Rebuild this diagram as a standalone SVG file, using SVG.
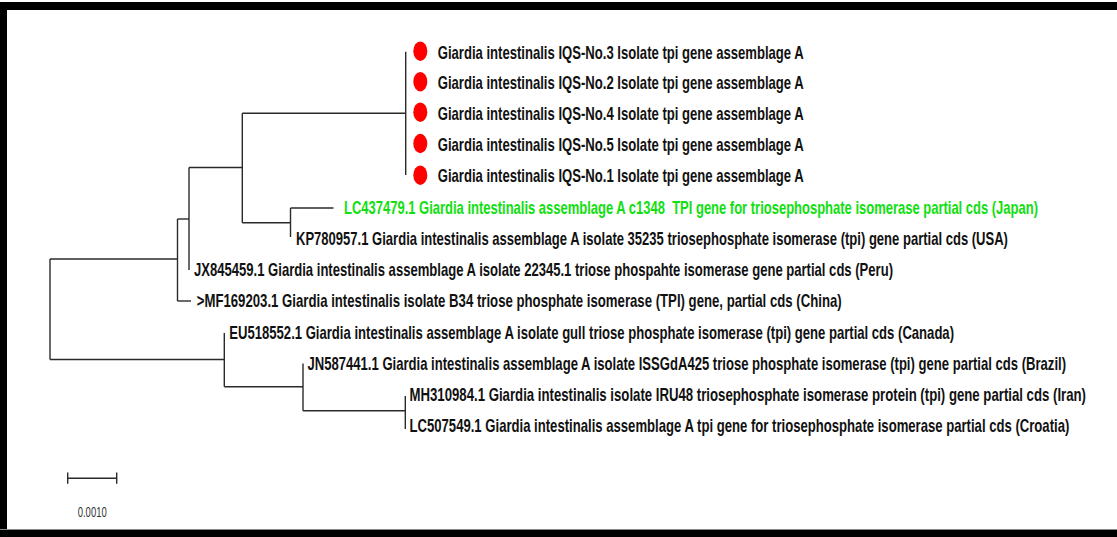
<svg xmlns="http://www.w3.org/2000/svg" width="1117" height="537" viewBox="0 0 1117 537">
<style>
.lbl{font-family:"Liberation Sans",Arial,sans-serif;font-size:17.5px;font-weight:bold;fill:#111}
.grn{fill:#10e010}
.br{fill:none;stroke:#2a2a2a;stroke-width:1.4}
.dot{fill:#ff0000}
.sc{font-family:"Liberation Sans",Arial,sans-serif;font-size:14px;fill:#333}
</style>
<rect x="0" y="0" width="1117" height="537" fill="#ffffff"/>
<g id="frame" fill="#000">
<rect x="0" y="2" width="1117" height="8"/>
<rect x="0" y="2" width="7" height="535"/>
<rect x="0" y="530" width="1117" height="7"/>
<rect x="0" y="529" width="1117" height="1" fill="#888"/>
</g>
<g id="connectors" class="br">
<path d="M50 259V359.5"/>
<path d="M50 259H177.5"/>
<path d="M177.5 219V301"/>
<path d="M177.5 219H189"/>
<path d="M177.5 301H191"/>
<path d="M189 167.5V270"/>
<path d="M189 167.5H242.3"/>
<path d="M242.3 113.3V222.7"/>
<path d="M242.3 113.3H405.7"/>
<path d="M405.7 51.7V175"/>
<path d="M242.3 222.7H290.5"/>
<path d="M290.5 208V237"/>
<path d="M290.5 208H333.5"/>
<path d="M50 359.5H224.3"/>
<path d="M224.3 333V386.7"/>
<path d="M224.3 386.7H303"/>
<path d="M303 363.5V410.7"/>
<path d="M303 410.7H405.3"/>
<path d="M405.3 396V429"/>
</g>
<g id="n-iqs3"><ellipse class="dot" cx="420.3" cy="51.2" rx="7" ry="9.7"/><text class="lbl" transform="translate(437.7 58.5) scale(0.7 1)" textLength="522.9" lengthAdjust="spacingAndGlyphs">Giardia intestinalis IQS-No.3 Isolate tpi gene assemblage A</text></g>
<g id="n-iqs2"><ellipse class="dot" cx="420.3" cy="81.7" rx="7" ry="9.7"/><text class="lbl" transform="translate(437.7 89.3) scale(0.7 1)" textLength="522.9" lengthAdjust="spacingAndGlyphs">Giardia intestinalis IQS-No.2 Isolate tpi gene assemblage A</text></g>
<g id="n-iqs4"><ellipse class="dot" cx="420.3" cy="112.2" rx="7" ry="9.7"/><text class="lbl" transform="translate(437.7 119.8) scale(0.7 1)" textLength="522.9" lengthAdjust="spacingAndGlyphs">Giardia intestinalis IQS-No.4 Isolate tpi gene assemblage A</text></g>
<g id="n-iqs5"><ellipse class="dot" cx="420.3" cy="143.5" rx="7" ry="9.7"/><text class="lbl" transform="translate(437.7 150.8) scale(0.7 1)" textLength="522.9" lengthAdjust="spacingAndGlyphs">Giardia intestinalis IQS-No.5 Isolate tpi gene assemblage A</text></g>
<g id="n-iqs1"><ellipse class="dot" cx="420.3" cy="175.2" rx="7" ry="9.7"/><text class="lbl" transform="translate(437.7 181.5) scale(0.7 1)" textLength="522.9" lengthAdjust="spacingAndGlyphs">Giardia intestinalis IQS-No.1 Isolate tpi gene assemblage A</text></g>
<g id="n-lc437479"><text class="lbl grn" transform="translate(344 214) scale(0.7 1)" textLength="991.4" lengthAdjust="spacingAndGlyphs" xml:space="preserve">LC437479.1 Giardia intestinalis assemblage A c1348  TPI gene for triosephosphate isomerase partial cds (Japan)</text></g>
<g id="n-kp780957"><text class="lbl" transform="translate(296 245) scale(0.7 1)" textLength="1017.1" lengthAdjust="spacingAndGlyphs">KP780957.1 Giardia intestinalis assemblage A isolate 35235 triosephosphate isomerase (tpi) gene partial cds (USA)</text></g>
<g id="n-jx845459"><text class="lbl" transform="translate(194 276.3) scale(0.7 1)" textLength="998.6" lengthAdjust="spacingAndGlyphs">JX845459.1 Giardia intestinalis assemblage A isolate 22345.1 triose phospahte isomerase gene partial cds (Peru)</text></g>
<g id="n-mf169203"><text class="lbl" transform="translate(196.7 307.3) scale(0.7 1)" textLength="921.4" lengthAdjust="spacingAndGlyphs">&gt;MF169203.1 Giardia intestinalis isolate B34 triose phosphate isomerase (TPI) gene, partial cds (China)</text></g>
<g id="n-eu518552"><text class="lbl" transform="translate(229.3 338.5) scale(0.7 1)" textLength="1035.3" lengthAdjust="spacingAndGlyphs">EU518552.1 Giardia intestinalis assemblage A isolate gull triose phosphate isomerase (tpi) gene partial cds (Canada)</text></g>
<g id="n-jn587441"><text class="lbl" transform="translate(307.5 369.8) scale(0.7 1)" textLength="1083.6" lengthAdjust="spacingAndGlyphs">JN587441.1 Giardia intestinalis assemblage A isolate ISSGdA425 triose phosphate isomerase (tpi) gene partial cds (Brazil)</text></g>
<g id="n-mh310984"><text class="lbl" transform="translate(409.5 400.5) scale(0.7 1)" textLength="966.4" lengthAdjust="spacingAndGlyphs">MH310984.1 Giardia intestinalis isolate IRU48 triosephosphate isomerase protein (tpi) gene partial cds (Iran)</text></g>
<g id="n-lc507549"><text class="lbl" transform="translate(409.5 431.5) scale(0.7 1)" textLength="942.6" lengthAdjust="spacingAndGlyphs">LC507549.1 Giardia intestinalis assemblage A tpi gene for triosephosphate isomerase partial cds (Croatia)</text></g>
<g id="scalebar">
<path class="br" d="M67.7 478.3H116.7M67.7 472.5V483.8M116.7 472.5V483.8" stroke="#444"/>
<text class="sc" transform="translate(92.2 517) scale(0.7 1)" text-anchor="middle" textLength="41.4" lengthAdjust="spacingAndGlyphs">0.0010</text>
</g>
</svg>
